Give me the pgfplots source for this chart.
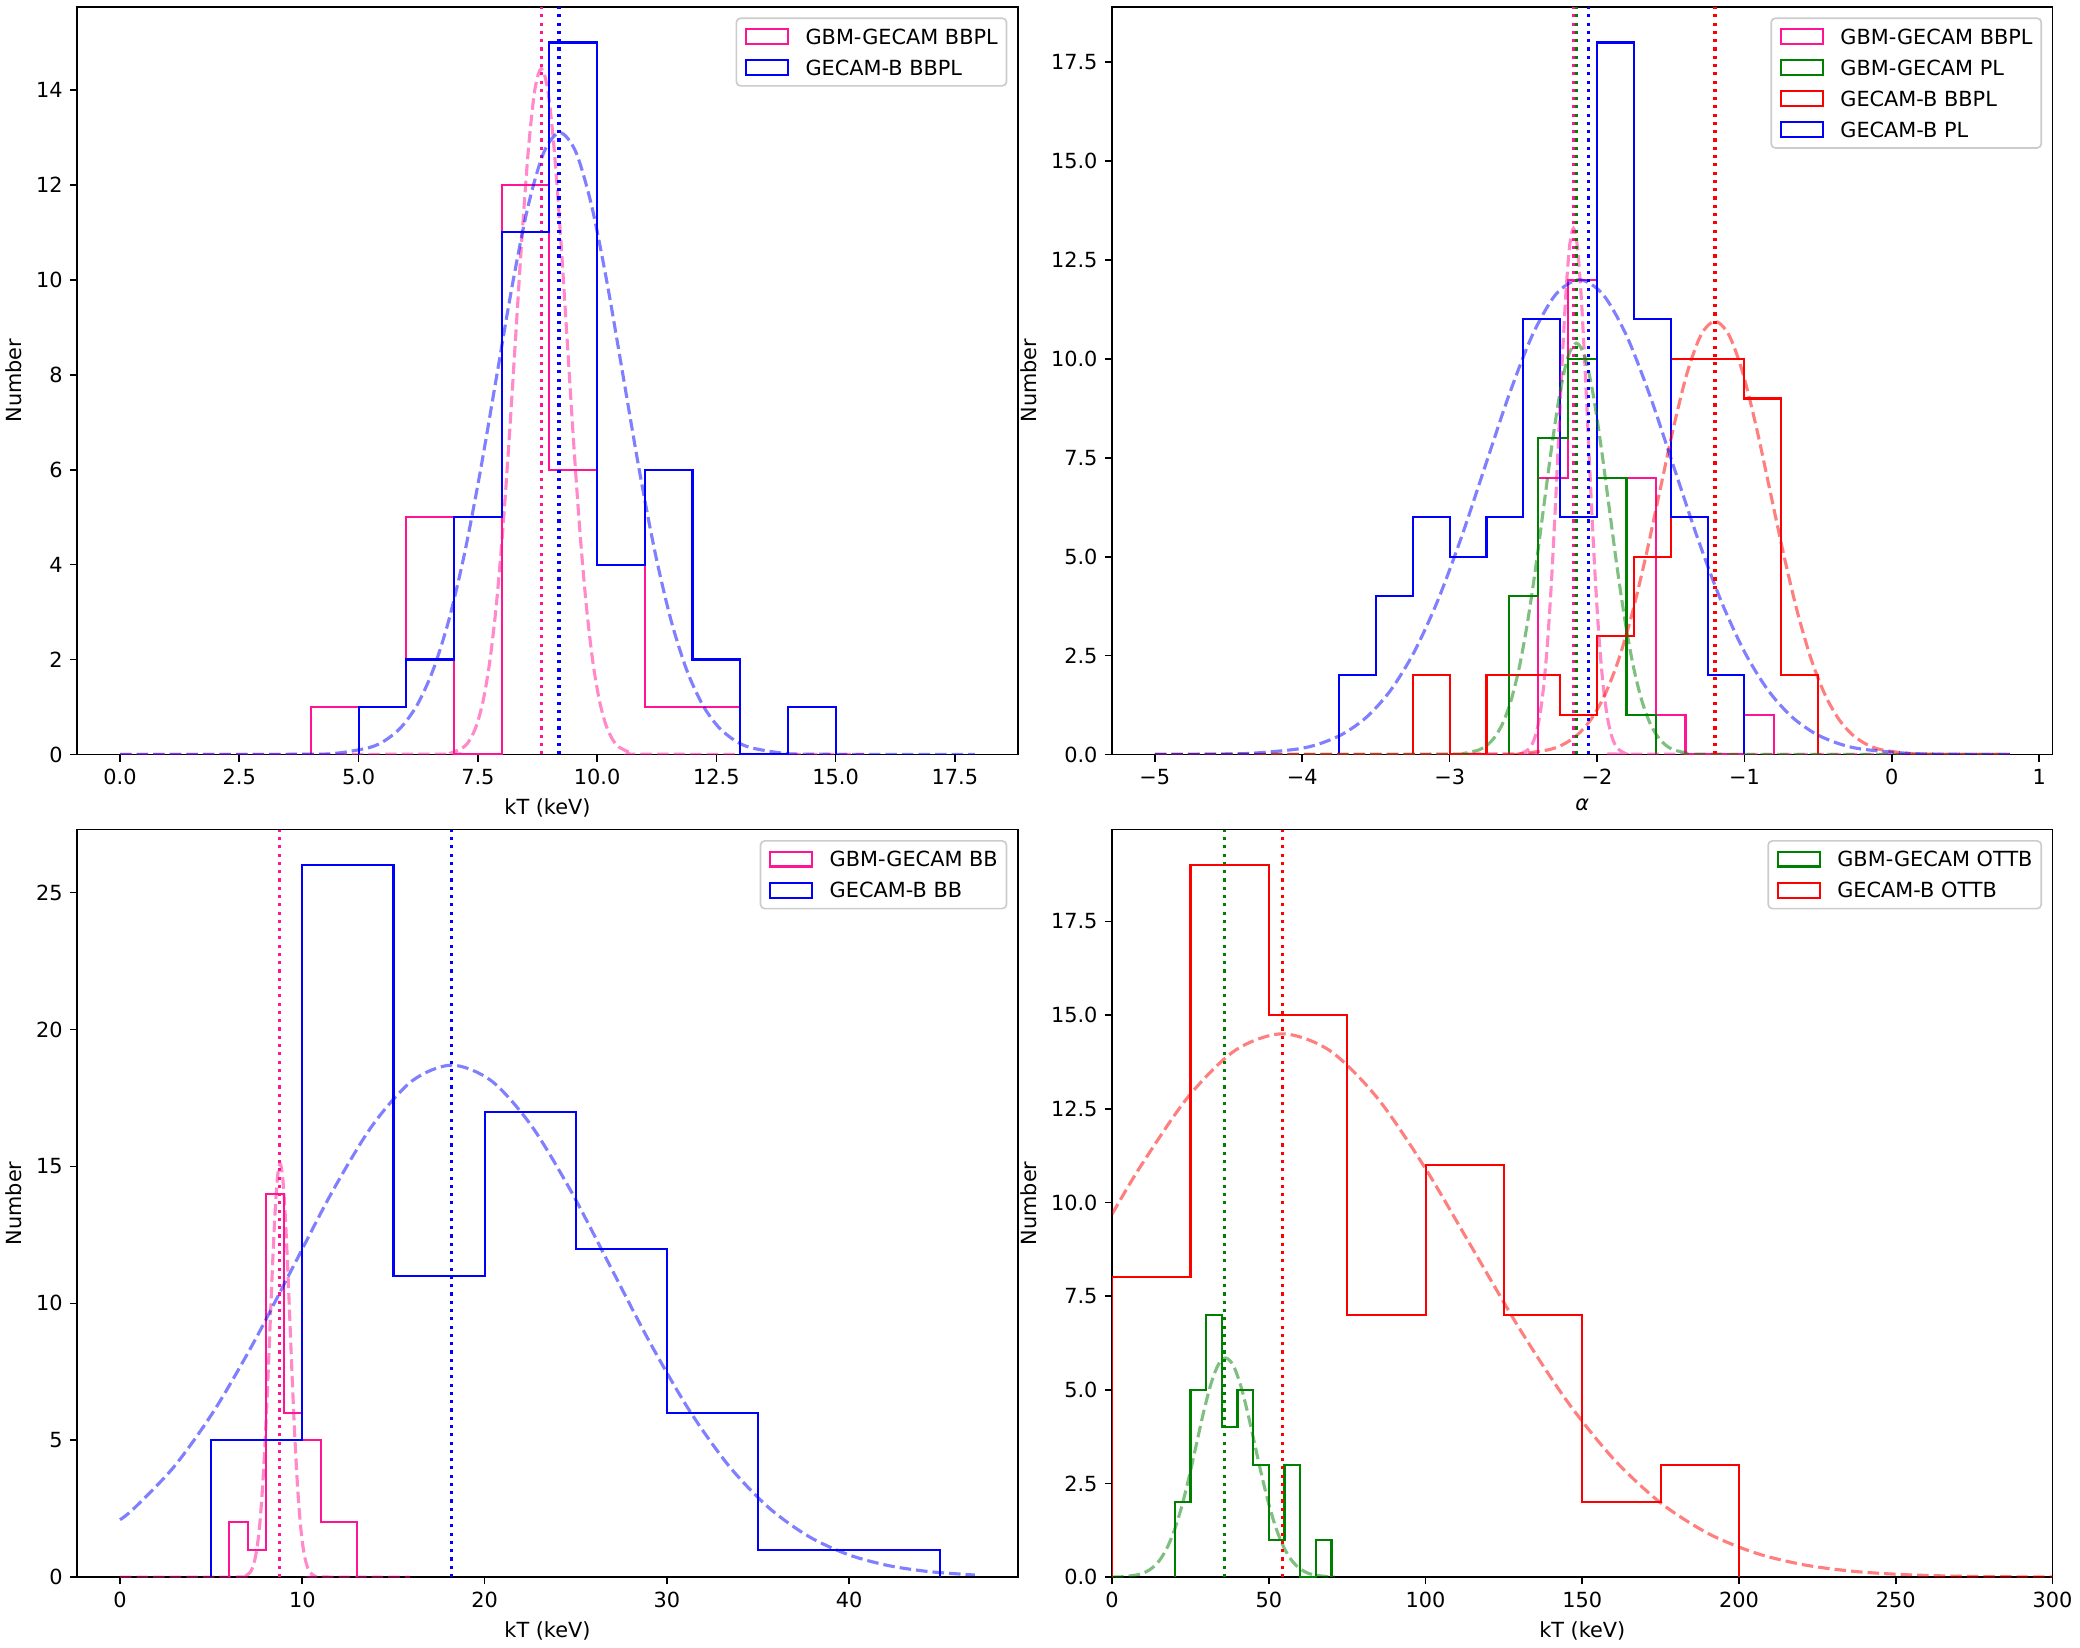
\documentclass[border=0pt]{standalone}
\usepackage{fontspec}
\setmainfont{DejaVu Sans}
\usepackage{pgfplots}
\pgfplotsset{compat=1.18}
\definecolor{mpink}{HTML}{FF1493}
\definecolor{mblue}{HTML}{0000FF}
\definecolor{mgreen}{HTML}{008000}
\definecolor{mred}{HTML}{FF0000}
\definecolor{lgframe}{HTML}{CCCCCC}
\pgfplotsset{
  base/.style={
    scale only axis, width=451.4pt, height=358.8pt,
    anchor=south west,
    axis line style={line width=0.8pt},
    tick align=outside, tick pos=left,
    major tick length=3.5pt,
    every tick/.style={black, line width=0.8pt},
    tick label style={font=\fontsize{10}{12}\selectfont},
    every axis label/.append style={font=\fontsize{10}{12}\selectfont},
    ylabel={Number},
    legend cell align=left,
    legend style={at={(1,1)}, anchor=north east, xshift=-5pt, yshift=-5pt,
      draw=lgframe, line width=0.8pt, rounded corners=2pt,
      fill=white, fill opacity=0.8, text opacity=1, draw opacity=1,
      inner xsep=4.2pt, inner ysep=4.8pt,
      font=\fontsize{10}{12}\selectfont,
      row sep=6.9pt,
      nodes={inner sep=0pt, text height=7.3pt, text depth=0pt}},
  },
  hist/.style={color=#1, line width=1pt, const plot mark left, mark=none, line join=miter,
    legend image code/.code={\draw[color=#1,sharp corners,solid,line width=1pt] (0pt,-3.5pt) rectangle (20pt,3.5pt); \path (28pt,0pt);}},
  curve/.style={color=#1, line width=1.5pt, opacity=0.5, dash pattern=on 5.55pt off 2.4pt, smooth, mark=none, forget plot},
  vl/.style={color=#1, line width=1.5pt, dash pattern=on 1.5pt off 2.475pt, mark=none, forget plot},
}
\begin{document}
\begin{tikzpicture}
\path[use as bounding box] (0,0) rectangle (998.4pt,791.04pt);
% ---------------- top left
\begin{axis}[base, at={(37.1pt,428.9pt)},
  xmin=-0.896, xmax=18.816, ymin=0, ymax=15.75,
  xtick={0,2.5,5,7.5,10,12.5,15,17.5},
  xticklabels={0.0,2.5,5.0,7.5,10.0,12.5,15.0,17.5},
  ytick={0,2,4,6,8,10,12,14},
  yticklabels={0,2,4,6,8,10,12,14},
  xlabel={kT (keV)}]
\addplot[hist=mpink] coordinates {(4,0)(4,1)(5,1)(6,5)(7,0)(8,12)(9,6)(10,4)(11,1)(12,1)(13,0)};
\addlegendentry{GBM-GECAM BBPL}
\addplot[curve=mpink] coordinates {(0,0) (6.67,0.005) (6.94,0.032) (7.21,0.161) (7.345,0.329) (7.48,0.635) (7.615,1.150) (7.75,1.956) (7.885,3.125) (8.02,4.691) (8.155,6.616) (8.29,8.764) (8.425,10.907) (8.56,12.752) (8.695,14.005) (8.83,14.45) (8.965,14.005) (9.10,12.752) (9.235,10.907) (9.37,8.764) (9.505,6.616) (9.64,4.691) (9.775,3.125) (9.91,1.956) (10.045,1.150) (10.18,0.635) (10.315,0.329) (10.45,0.161) (10.72,0.032) (10.99,0.005) (15.6,0)};
\addplot[vl=mpink] coordinates {(8.83,0) (8.83,15.75)};
\addplot[hist=mblue] coordinates {(5,0)(5,1)(6,2)(7,5)(8,11)(9,15)(10,4)(11,6)(12,2)(13,0)(14,1)(15,0)};
\addlegendentry{GECAM-B BBPL}
\addplot[curve=mblue] coordinates {(0,0) (3.90,0.004) (4.565,0.029) (5.23,0.146) (5.5625,0.299) (5.895,0.576) (6.2275,1.042) (6.56,1.773) (6.8925,2.833) (7.225,4.253) (7.5575,5.998) (7.89,7.946) (8.2225,9.888) (8.555,11.561) (8.8875,12.697) (9.22,13.1) (9.5525,12.697) (9.885,11.561) (10.2175,9.888) (10.55,7.946) (10.8825,5.998) (11.215,4.253) (11.5475,2.833) (11.88,1.773) (12.2125,1.042) (12.545,0.576) (12.8775,0.299) (13.21,0.146) (13.875,0.029) (14.54,0.004) (17.92,0)};
\addplot[vl=mblue] coordinates {(9.2,0) (9.2,15.75)};
\end{axis}
% ---------------- top right
\begin{axis}[base, at={(533.8pt,428.9pt)},
  xmin=-5.29, xmax=1.09, ymin=0, ymax=18.9,
  xtick={-5,-4,-3,-2,-1,0,1},
  xticklabels={−5,−4,−3,−2,−1,0,1},
  ytick={0,2.5,5,7.5,10,12.5,15,17.5},
  yticklabels={0.0,2.5,5.0,7.5,10.0,12.5,15.0,17.5},
  xlabel={\textit{α}}]
\addplot[hist=mpink] coordinates {(-2.4,0)(-2.4,7)(-2.2,12)(-2.0,7)(-1.8,7)(-1.6,1)(-1.4,0)(-1.2,0)(-1.0,1)(-0.8,0)};
\addlegendentry{GBM-GECAM BBPL}
\addplot[hist=mgreen] coordinates {(-2.6,0)(-2.6,4)(-2.4,8)(-2.2,10)(-2.0,7)(-1.8,1)(-1.6,0)};
\addlegendentry{GBM-GECAM PL}
\addplot[hist=mred] coordinates {(-3.25,0)(-3.25,2)(-3.0,0)(-2.75,2)(-2.5,2)(-2.25,1)(-2.0,3)(-1.75,5)(-1.5,10)(-1.25,10)(-1.0,9)(-0.75,2)(-0.5,0)};
\addlegendentry{GECAM-B BBPL}
\addplot[hist=mblue] coordinates {(-3.75,0)(-3.75,2)(-3.5,4)(-3.25,6)(-3.0,5)(-2.75,6)(-2.5,11)(-2.25,6)(-2.0,18)(-1.75,11)(-1.5,6)(-1.25,2)(-1.0,0)};
\addlegendentry{GECAM-B PL}
\addplot[curve=mpink] coordinates {(-5,0) (-2.56,0.005) (-2.51,0.029) (-2.46,0.148) (-2.435,0.303) (-2.41,0.584) (-2.385,1.058) (-2.36,1.800) (-2.335,2.876) (-2.31,4.318) (-2.285,6.089) (-2.26,8.067) (-2.235,10.039) (-2.21,11.737) (-2.185,12.891) (-2.16,13.3) (-2.135,12.891) (-2.11,11.737) (-2.085,10.039) (-2.06,8.067) (-2.035,6.089) (-2.01,4.318) (-1.985,2.876) (-1.96,1.800) (-1.935,1.058) (-1.91,0.584) (-1.885,0.303) (-1.86,0.148) (-1.81,0.029) (-1.76,0.005) (0.8,0)};
\addplot[curve=mgreen] coordinates {(-5,0) (-3.02,0.004) (-2.91,0.023) (-2.80,0.116) (-2.745,0.237) (-2.69,0.457) (-2.635,0.827) (-2.58,1.408) (-2.525,2.249) (-2.47,3.376) (-2.415,4.761) (-2.36,6.308) (-2.305,7.850) (-2.25,9.178) (-2.195,10.080) (-2.14,10.4) (-2.085,10.080) (-2.03,9.178) (-1.975,7.850) (-1.92,6.308) (-1.865,4.761) (-1.81,3.376) (-1.755,2.249) (-1.70,1.408) (-1.645,0.827) (-1.59,0.457) (-1.535,0.237) (-1.48,0.116) (-1.37,0.023) (-1.26,0.004) (0.8,0)};
\addplot[curve=mred] coordinates {(-5,0) (-2.70,0.004) (-2.5125,0.024) (-2.325,0.122) (-2.23125,0.250) (-2.1375,0.481) (-2.04375,0.871) (-1.95,1.482) (-1.85625,2.368) (-1.7625,3.555) (-1.66875,5.013) (-1.575,6.642) (-1.48125,8.265) (-1.3875,9.663) (-1.29375,10.613) (-1.20,10.95) (-1.10625,10.613) (-1.0125,9.663) (-0.91875,8.265) (-0.825,6.642) (-0.73125,5.013) (-0.6375,3.555) (-0.54375,2.368) (-0.45,1.482) (-0.35625,0.871) (-0.2625,0.481) (-0.16875,0.250) (-0.075,0.122) (0.1125,0.024) (0.30,0.004) (0.8,0)};
\addplot[curve=mblue] coordinates {(-5,0) (-4.68,0.004) (-4.36,0.026) (-4.04,0.133) (-3.88,0.273) (-3.72,0.527) (-3.56,0.955) (-3.40,1.624) (-3.24,2.595) (-3.08,3.896) (-2.92,5.494) (-2.76,7.278) (-2.60,9.058) (-2.44,10.590) (-2.28,11.631) (-2.12,12.0) (-1.96,11.631) (-1.80,10.590) (-1.64,9.058) (-1.48,7.278) (-1.32,5.494) (-1.16,3.896) (-1.00,2.595) (-0.84,1.624) (-0.68,0.955) (-0.52,0.527) (-0.36,0.273) (-0.20,0.133) (0.12,0.026) (0.44,0.004) (0.8,0)};
\addplot[vl=mpink] coordinates {(-2.16,0) (-2.16,18.9)};
\addplot[vl=mgreen] coordinates {(-2.14,0) (-2.14,18.9)};
\addplot[vl=mred] coordinates {(-1.20,0) (-1.20,18.9)};
\addplot[vl=mblue] coordinates {(-2.056,0) (-2.056,18.9)};
\end{axis}
% ---------------- bottom left
\begin{axis}[base, at={(37.1pt,34.0pt)},
  xmin=-2.345, xmax=49.245, ymin=0, ymax=27.3,
  xtick={0,10,20,30,40},
  xticklabels={0,10,20,30,40},
  ytick={0,5,10,15,20,25},
  yticklabels={0,5,10,15,20,25},
  xlabel={kT (keV)}]
\addplot[hist=mpink] coordinates {(6,0)(6,2)(7,1)(8,14)(9,6)(10,5)(11,2)(12,2)(13,0)};
\addlegendentry{GBM-GECAM BB}
\addplot[curve=mpink] coordinates {(0,0) (6.58,0.005) (6.855,0.033) (7.13,0.168) (7.2675,0.344) (7.405,0.664) (7.5425,1.201) (7.68,2.044) (7.8175,3.266) (7.955,4.902) (8.0925,6.913) (8.23,9.159) (8.3675,11.398) (8.505,13.326) (8.6425,14.635) (8.78,15.1) (8.9175,14.635) (9.055,13.326) (9.1925,11.398) (9.33,9.159) (9.4675,6.913) (9.605,4.902) (9.7425,3.266) (9.88,2.044) (10.0175,1.201) (10.155,0.664) (10.2925,0.344) (10.43,0.168) (10.705,0.033) (10.98,0.005) (15.9,0)};
\addplot[vl=mpink] coordinates {(8.76,0) (8.76,27.3)};
\addplot[hist=mblue] coordinates {(5,0)(5,5)(10,26)(15,11)(20,17)(25,12)(30,6)(35,1)(40,1)(45,0)};
\addlegendentry{GECAM-B BB}
\addplot[curve=mblue] coordinates {(0,2.096) (0.80,2.531) (2.975,4.044) (5.15,6.071) (7.325,8.561) (9.50,11.342) (11.675,14.116) (13.85,16.503) (16.025,18.125) (18.2,18.7) (20.375,18.125) (22.55,16.503) (24.725,14.116) (26.90,11.342) (29.075,8.561) (31.25,6.071) (33.425,4.044) (35.60,2.531) (37.775,1.488) (39.95,0.822) (42.125,0.426) (44.30,0.208) (46.475,0.095) (46.9,0.081)};
\addplot[vl=mblue] coordinates {(18.19,0) (18.19,27.3)};
\end{axis}
% ---------------- bottom right
\begin{axis}[base, at={(533.8pt,34.0pt)},
  xmin=0, xmax=300, ymin=0, ymax=19.95,
  xtick={0,50,100,150,200,250,300},
  xticklabels={0,50,100,150,200,250,300},
  ytick={0,2.5,5,7.5,10,12.5,15,17.5},
  yticklabels={0.0,2.5,5.0,7.5,10.0,12.5,15.0,17.5},
  xlabel={kT (keV)}]
\addplot[hist=mgreen] coordinates {(20,0)(20,2)(25,5)(30,7)(35,4)(40,5)(45,3)(50,1)(55,3)(60,0)(65,1)(70,0)};
\addlegendentry{GBM-GECAM OTTB}
\addplot[curve=mgreen] coordinates {(0,0.003) (3.65,0.013) (8.30,0.065) (10.625,0.133) (12.95,0.257) (15.275,0.465) (17.60,0.792) (19.925,1.265) (22.25,1.899) (24.575,2.678) (26.90,3.548) (29.225,4.416) (31.55,5.163) (33.875,5.670) (36.2,5.85) (38.525,5.670) (40.85,5.163) (43.175,4.416) (45.50,3.548) (47.825,2.678) (50.15,1.899) (52.475,1.265) (54.80,0.792) (57.125,0.465) (59.45,0.257) (61.775,0.133) (64.10,0.065) (68.75,0.013) (71,0.005)};
\addplot[vl=mgreen] coordinates {(35.8,0) (35.8,19.95)};
\addplot[hist=mred] coordinates {(0,0)(0,8)(25,19)(50,15)(75,7)(100,11)(125,7)(150,2)(175,3)(200,0)};
\addlegendentry{GECAM-B OTTB}
\addplot[curve=mred] coordinates {(0,9.69) (8.9375,10.945) (24.05,12.796) (39.175,14.054) (54.3,14.5) (69.425,14.054) (84.55,12.796) (99.675,10.945) (114.8,8.795) (129.925,6.639) (145.05,4.707) (160.175,3.136) (175.3,1.962) (190.425,1.154) (205.55,0.637) (220.675,0.330) (235.8,0.161) (250.925,0.074) (266.05,0.032) (281.175,0.013) (296.3,0.005) (300,0.004)};
\addplot[vl=mred] coordinates {(54.3,0) (54.3,19.95)};
\end{axis}
\end{tikzpicture}
\end{document}
